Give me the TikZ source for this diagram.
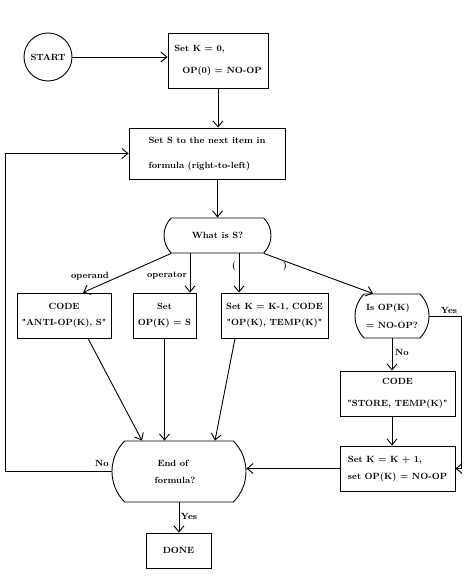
\documentclass[tikz,border=0pt]{standalone}
\usepackage{tikz}
\usetikzlibrary{arrows.meta,shapes.misc,calc}
\tikzset{
	flowtext/.style={font=\fontsize{9}{11}\selectfont\bfseries},
	flowbox/.style={flowtext, draw, line width=0.9pt, rectangle, inner sep=2pt},
	startnode/.style={flowtext, draw, line width=0.9pt, circle, minimum size=48pt, inner sep=1pt},
	decision/.style={flowtext, draw, line width=0.9pt, rounded rectangle, rounded rectangle arc length=90, inner sep=2pt},
	lbl/.style={flowtext, inner sep=0pt},
	arr/.style={line width=0.9pt, -{Straight Barb[length=6pt,width=10pt]}}
}
\def\q{\textquotedbl}

\begin{document}
\begin{tikzpicture}[x=1pt,y=-1pt]
			%%%%% START %%%%%
			\useasboundingbox (0,0) rectangle (470,586);
			
			\node[startnode] (start) at (48,57) {START};
			\node[flowbox, minimum width=100pt, minimum height=55pt, align=left] (setk) at (218,60.5) {Set K = 0,\\[11pt]\hspace*{8pt}OP(0) = NO-OP};
			\node[flowbox, minimum width=156pt, minimum height=51pt, align=left] (next) at (207,153.5) {Set S to the next item in\\[14pt]formula (right-to-left)};
			
			\node[decision, minimum width=111pt, minimum height=35pt] (what) at (217.5,235.5) {What is S?};
			
			\node[flowbox, minimum width=94pt, minimum height=45pt, align=center] (code1) at (64,315.5) {CODE\\[5pt]\q ANTI-OP(K), S\q};
			\node[flowbox, minimum width=63pt, minimum height=45pt, align=center] (set2) at (164.5,315.5) {Set\\[5pt]OP(K) = S};
			\node[flowbox, minimum width=107pt, minimum height=45pt, align=center] (setk1) at (274.5,315.5) {Set K = K-1, CODE\\[5pt]\q OP(K), TEMP(K)\q};
			\node[decision, minimum width=78pt, minimum height=44pt, align=left] (isop) at (392,316) {Is OP(K)\\[7pt]= NO-OP?};
			
			\node[flowbox, minimum width=115pt, minimum height=45pt, align=center] (store) at (397.5,393.5) {CODE\\[11pt]\q STORE, TEMP(K)\q};
			\node[flowbox, minimum width=115pt, minimum height=45pt, align=left] (incr) at (397.5,468.5) {Set K = K + 1,\\[6pt]set OP(K) = NO-OP};
			
			\node[decision, minimum width=138pt, minimum height=61pt, align=center] (endf) at (179,471.5) {\hspace*{-12pt}End of\\[6pt]\hspace*{-8pt}formula?};
			\node[flowbox, minimum width=65pt, minimum height=35pt] (done) at (178.5,550.5) {DONE};
			
			\draw[arr] (start.east) -- (setk.west |- start.east);
			\draw[arr] (setk.south) -- (setk.south |- next.north);
			\draw[arr] (what.north |- next.south) -- (what.north);
			
			\draw[arr] (what.south west) -- ($(code1.north)+(19,0)$);
			\draw[arr] ($(what.south)+(-27.5,0)$) -- ($(set2.north)+(25.5,0)$);
			\draw[arr] ($(what.south)+(21.5,0)$) -- ($(setk1.north)+(-35.5,0)$);
			\draw[arr] (what.south east) -- ($(isop.north)+(-19,0)$);
			
			\draw[arr] ($(code1.south)+(24,0)$) -- ($(endf.north)+(-37,0)$);
			\draw[arr] (set2.south) -- (set2.south |- endf.north);
			\draw[arr] ($(setk1.south)+(-39.5,0)$) -- ($(endf.north)+(36,0)$);
			
			\draw[arr] (isop.south) -- (isop.south |- store.north);
			\draw[arr] (isop.south |- store.south) -- (isop.south |- incr.north);
			\draw[arr] (isop.east) -- ++(32,0) |- (incr.east);
			\draw[arr] (incr.west) -- (incr.west -| endf.east);
			
			\draw[arr] (endf.west) -- ++(-106,0) |- (next.west);
			\draw[arr] (endf.south) -- (endf.south |- done.north);
			
			\node[lbl] (lOperand) at (90,276) {operand};
			\node[lbl] (lOperator) at (167,276) {operator};
			\node[lbl] (lOpen) at (234,266) {(};
			\node[lbl] (lClose) at (285,266) {)};
			\node[lbl] (lYesA) at (449,310) {Yes};
			\node[lbl] (lNoA) at (402,352) {No};
			\node[lbl] (lNoB) at (102,463) {No};
			\node[lbl] (lYesB) at (189,516) {Yes};
			
			%%%%% END %%%%%
\end{tikzpicture}
\end{document}
